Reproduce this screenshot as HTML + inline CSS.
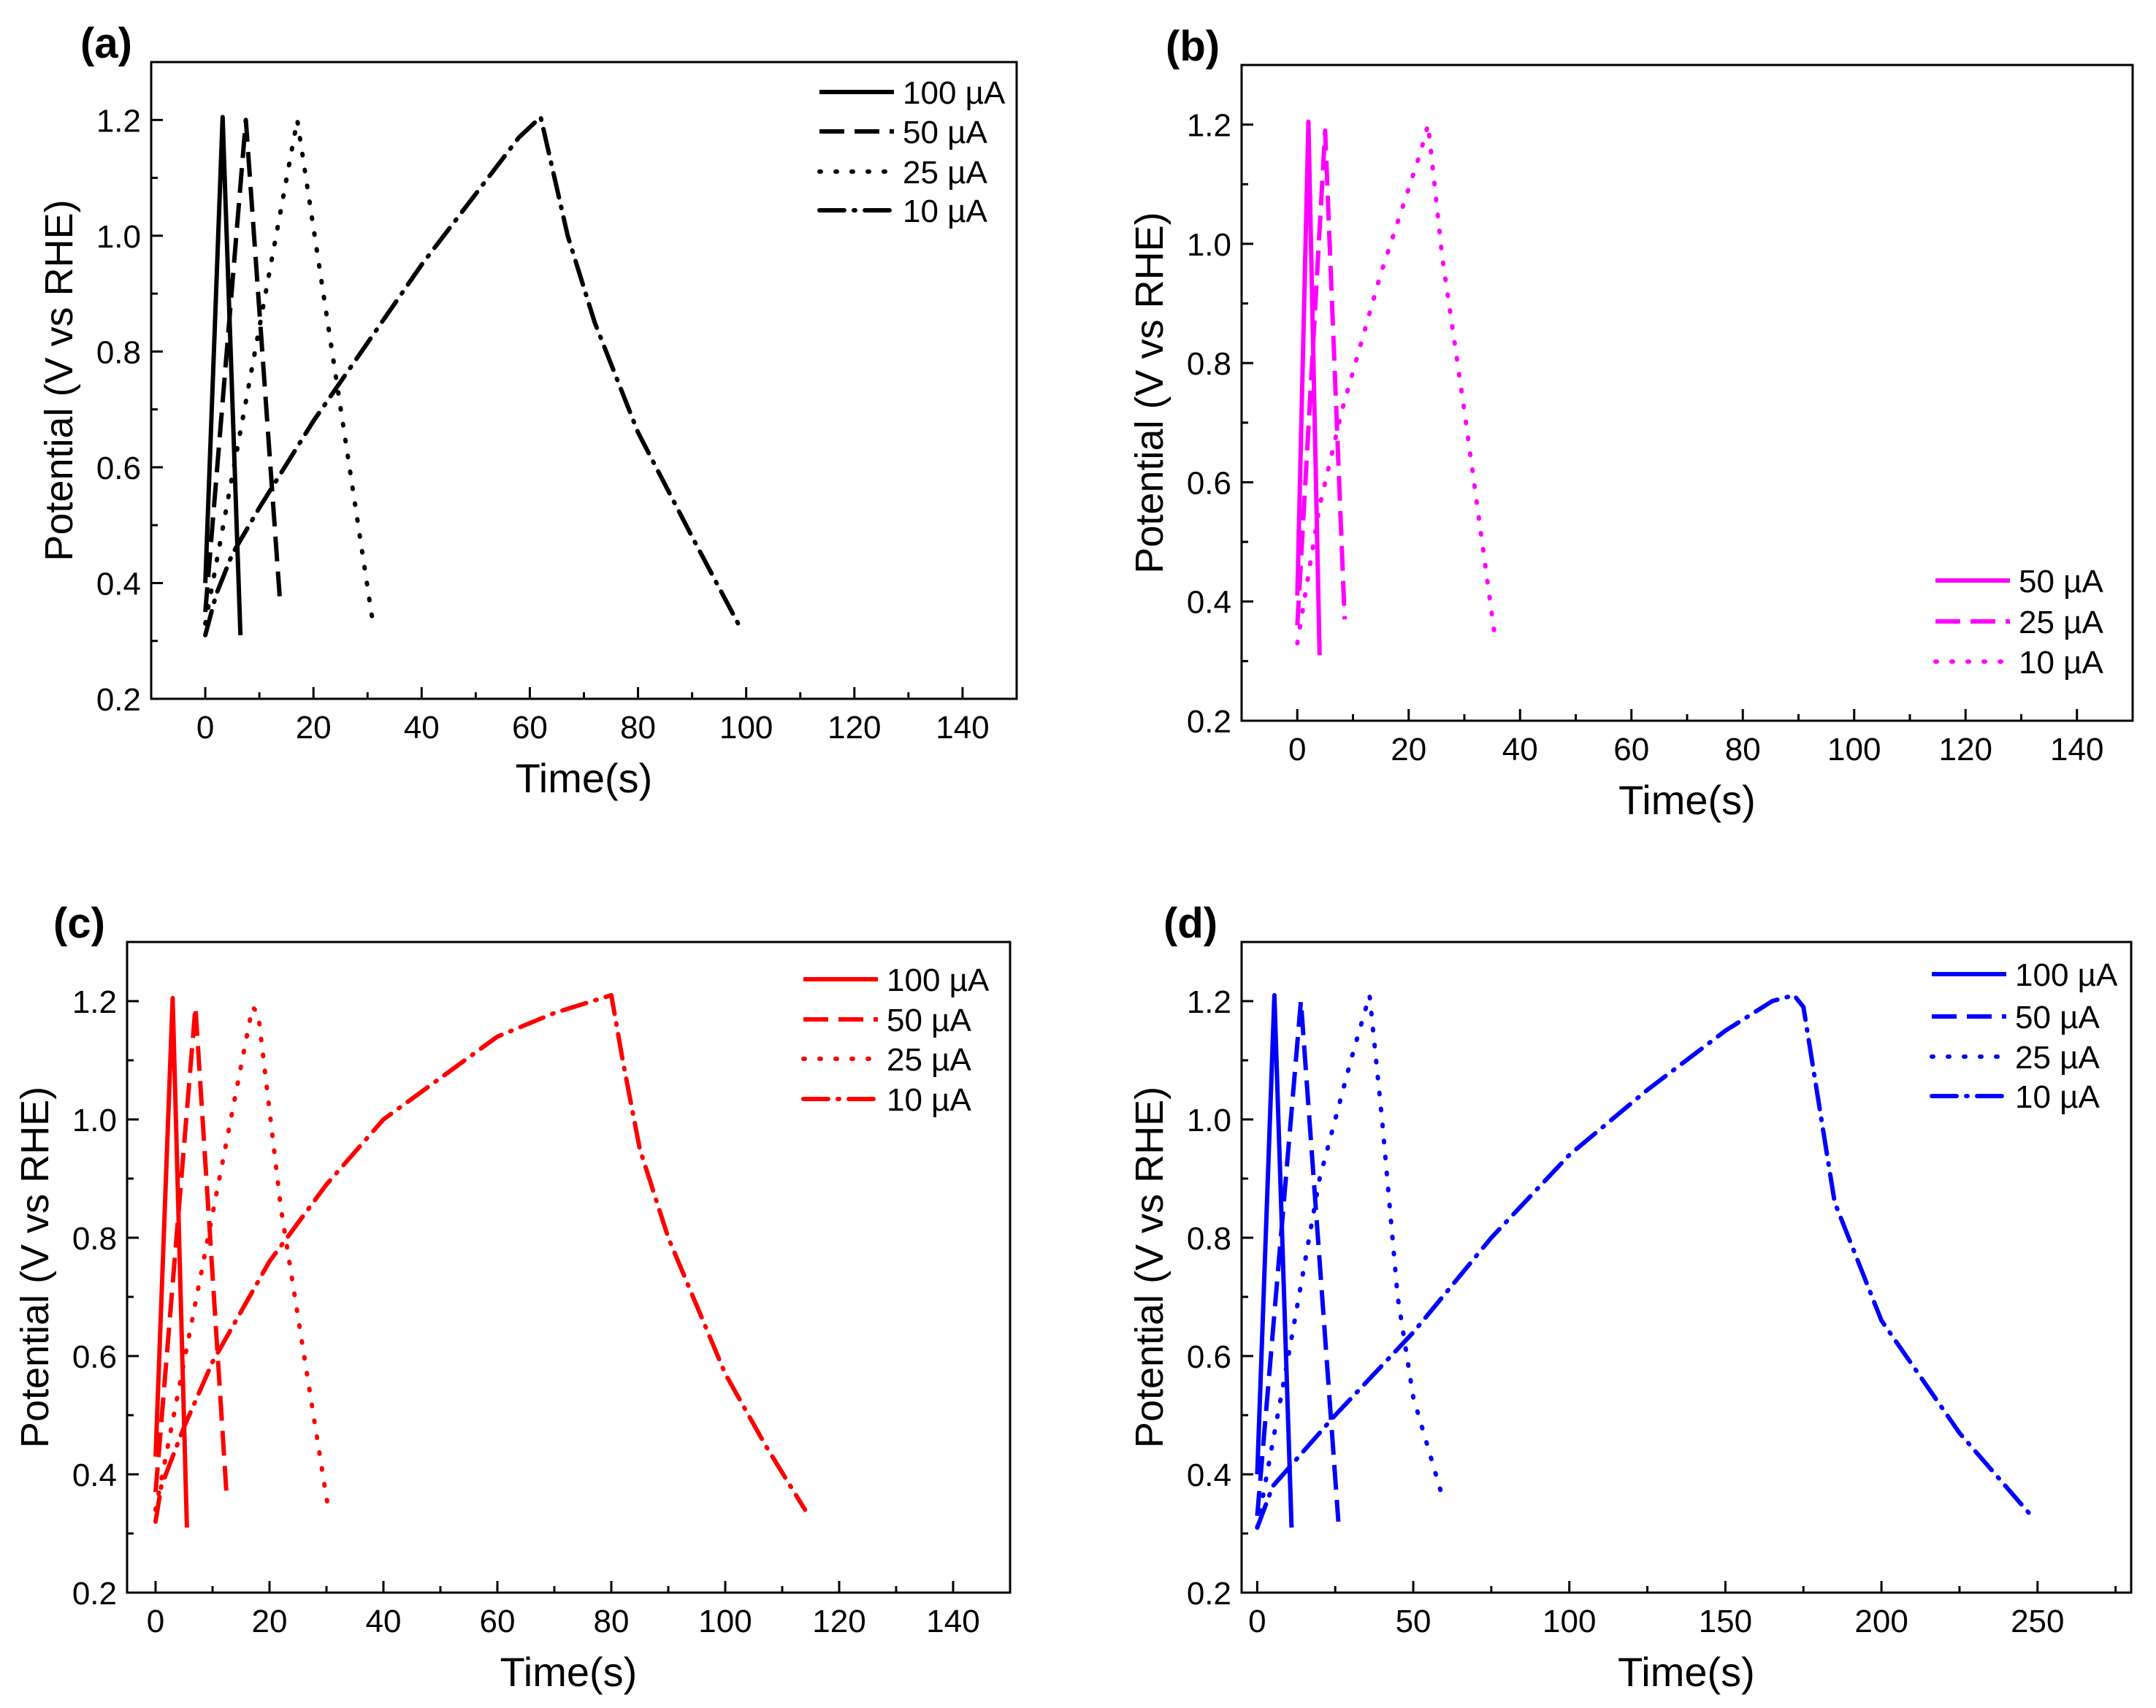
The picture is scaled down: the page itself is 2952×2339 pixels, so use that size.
<!DOCTYPE html>
<html><head><meta charset="utf-8">
<style>
html,body{margin:0;padding:0;background:#fff;}
svg{display:block;font-family:"Liberation Sans",Arial,sans-serif;}
</style></head>
<body>
<svg id="fig" width="2952" height="2339" viewBox="0 0 2952 2339" xmlns="http://www.w3.org/2000/svg">
<rect x="0" y="0" width="2952" height="2339" fill="#fff"/>
</svg>
<script>
// ---- data ----
const legendLabels4 = ["100 µA","50 µA","25 µA","10 µA"];
const legendLabels3 = ["50 µA","25 µA","10 µA"];
const xTicks150 = [0,20,40,60,80,100,120,140];
const xTicks250 = [0,50,100,150,200,250];
const yTicks = [0.2,0.4,0.6,0.8,1.0,1.2];

const a100t=[0,3.2,6.5], a100v=[0.40,1.205,0.31];
const a50t=[0,7.5,13.8], a50v=[0.35,1.20,0.37];
const a25t=[0,17,31], a25v=[0.33,1.20,0.33];
const a10t=[0,2,5,10,20,40,58,62,67,72,80,90,98.5];
const a10v=[0.31,0.38,0.45,0.53,0.68,0.95,1.17,1.205,1.0,0.85,0.66,0.48,0.33];

const b50t=[0,2,4], b50v=[0.41,1.205,0.31];
const b25t=[0,5,8.5], b25v=[0.36,1.19,0.37];
const b10t=[0,4,8,15,22,23.5,26,30,35.5];
const b10v=[0.33,0.56,0.72,0.95,1.15,1.20,0.98,0.72,0.34];

const c100t=[0,3,5.5], c100v=[0.43,1.205,0.31];
const c50t=[0,7,12.5], c50v=[0.37,1.19,0.36];
const c25t=[0,17,18,22,30.5], c25v=[0.34,1.19,1.18,0.85,0.33];
const c10t=[0,1,5,10,20,30,40,50,60,70,80,82,85,90,100,107,114];
const c10v=[0.32,0.38,0.48,0.59,0.76,0.89,1.0,1.07,1.14,1.18,1.21,1.10,0.95,0.80,0.57,0.45,0.34];

const d100t=[0,5.5,11], d100v=[0.40,1.21,0.31];
const d50t=[0,14,26], d50v=[0.33,1.20,0.32];
const d25t=[0,10,20,30,36,40,45,50,60], d25v=[0.31,0.60,0.90,1.10,1.21,1.0,0.70,0.53,0.35];
const d10t=[0,5,10,25,50,75,100,125,150,165,172,175,185,200,225,248];
const d10v=[0.31,0.38,0.41,0.50,0.64,0.80,0.94,1.05,1.15,1.20,1.21,1.19,0.86,0.66,0.47,0.33];

// ---- drawing ----
const NS="http://www.w3.org/2000/svg";
const svg=document.getElementById('fig');
function mk(tag,attrs,parent){const e=document.createElementNS(NS,tag);for(const k in attrs)e.setAttribute(k,attrs[k]);(parent||svg).appendChild(e);return e;}
const dashes={solid:"",dash:"34,14",dot:"2,20",dashdot:"34,13,2,13"};

function panel(cfg){
  const g=mk('g',{});
  
  
  const X=v=>cfg.L+(v-cfg.xmin)/(cfg.xmax-cfg.xmin)*(cfg.R-cfg.L);
  const Y=v=>cfg.B-(v-0.2)/(1.3-0.2)*(cfg.B-cfg.T);
  cfg.series.forEach((s,i)=>{
    let d='';s.t.forEach((t,j)=>{d+=(j?'L':'M')+X(t).toFixed(1)+','+Y(s.v[j]).toFixed(1);});
    const round=(s.style==='dot'||s.style==='dashdot');
    const p=mk('path',{d:d,fill:'none',stroke:cfg.color,'stroke-width':6,'stroke-dasharray':dashes[s.style],'stroke-linecap':round?'round':'butt','stroke-linejoin':'round'},g);
    
    
  });
  const fr=mk('rect',{x:cfg.L,y:cfg.T,width:cfg.R-cfg.L,height:cfg.B-cfg.T,fill:'none',stroke:'#000','stroke-width':3},g);
  
  
  const step=cfg.xticks[1]-cfg.xticks[0];
  for(let v=cfg.xticks[0]-step/2; v<=cfg.xmax; v+=step/2){
    if(v<cfg.xmin) continue;
    const major=Math.abs((v-cfg.xticks[0])/step-Math.round((v-cfg.xticks[0])/step))<1e-6;
    mk('line',{x1:X(v),x2:X(v),y1:cfg.B,y2:cfg.B-(major?16:9),stroke:'#000','stroke-width':3},g);
  }
  cfg.xticks.forEach(v=>{
    const t=mk('text',{x:X(v),y:cfg.B+54,'font-size':44,'text-anchor':'middle',fill:'#000'},g);
    t.textContent=v;
    
    
  });
  for(let k=0;k<=10;k++){
    const v=0.2+k*0.1, major=k%2===0;
    mk('line',{x1:cfg.L,x2:cfg.L+(major?16:9),y1:Y(v),y2:Y(v),stroke:'#000','stroke-width':3},g);
  }
  yTicks.forEach(v=>{
    const t=mk('text',{x:cfg.L-14,y:Y(v)+16,'font-size':44,'text-anchor':'end',fill:'#000'},g);
    t.textContent=v.toFixed(1);
    
    
  });
  const xt=mk('text',{x:(cfg.L+cfg.R)/2,y:cfg.B+128,'font-size':56,'text-anchor':'middle',fill:'#000'},g);
  xt.textContent='Time(s)';
  
  
  const yc=(cfg.T+cfg.B)/2, yx=cfg.L-108;
  const yt=mk('text',{x:yx,y:yc,'font-size':54,'text-anchor':'middle',fill:'#000',transform:`rotate(-90 ${yx} ${yc})`},g);
  yt.textContent='Potential (V vs RHE)';
  
  
  const pl=mk('text',{x:cfg.plx,y:cfg.T-6,'font-size':58,'font-weight':'bold',fill:'#000'},g);
  pl.textContent='('+cfg.id+')';
  
  
  cfg.series.forEach((s,i)=>{
    const yy=cfg.legY[i];
    const round=(s.style==='dot'||s.style==='dashdot');
    const ln=mk('line',{x1:cfg.legX,x2:cfg.legX+102,y1:yy,y2:yy,stroke:cfg.color,'stroke-width':6,'stroke-dasharray':dashes[s.style],'stroke-linecap':round?'round':'butt'},g);
    
    
    const tx=mk('text',{x:cfg.legX+114,y:yy+16,'font-size':44,fill:'#000'},g);
    tx.textContent=s.name;
    
    
  });
}

panel({id:'a',L:207,R:1392,T:85,B:957,xmin:-10,xmax:150,xticks:xTicks150,color:'#000',plx:110,
  legX:1122,legY:[126,180,235,288],
  series:[{name:legendLabels4[0],style:'solid',t:a100t,v:a100v},{name:legendLabels4[1],style:'dash',t:a50t,v:a50v},
          {name:legendLabels4[2],style:'dot',t:a25t,v:a25v},{name:legendLabels4[3],style:'dashdot',t:a10t,v:a10v}]});
panel({id:'b',L:1700,R:2920,T:89,B:987,xmin:-10,xmax:150,xticks:xTicks150,color:'#ff00ff',plx:1596,
  legX:2650,legY:[795,851,906],
  series:[{name:legendLabels3[0],style:'solid',t:b50t,v:b50v},{name:legendLabels3[1],style:'dash',t:b25t,v:b25v},
          {name:legendLabels3[2],style:'dot',t:b10t,v:b10v}]});
panel({id:'c',L:174,R:1383,T:1290,B:2181,xmin:-5,xmax:150,xticks:xTicks150,color:'#ff0000',plx:73,
  legX:1100,legY:[1341,1396,1450,1505],
  series:[{name:legendLabels4[0],style:'solid',t:c100t,v:c100v},{name:legendLabels4[1],style:'dash',t:c50t,v:c50v},
          {name:legendLabels4[2],style:'dot',t:c25t,v:c25v},{name:legendLabels4[3],style:'dashdot',t:c10t,v:c10v}]});
panel({id:'d',L:1700,R:2918,T:1290,B:2181,xmin:-5,xmax:280,xticks:xTicks250,color:'#0000ff',plx:1593,
  legX:2645,legY:[1334,1392,1447,1501],
  series:[{name:legendLabels4[0],style:'solid',t:d100t,v:d100v},{name:legendLabels4[1],style:'dash',t:d50t,v:d50v},
          {name:legendLabels4[2],style:'dot',t:d25t,v:d25v},{name:legendLabels4[3],style:'dashdot',t:d10t,v:d10v}]});
</script>
</body></html>
